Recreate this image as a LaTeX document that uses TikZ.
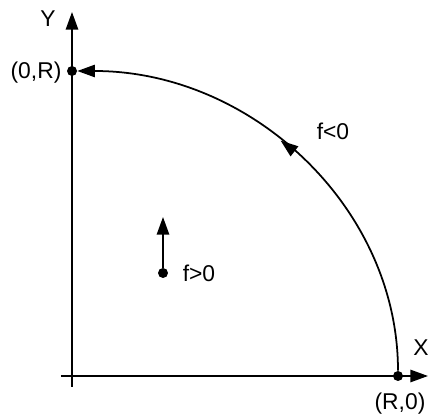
\documentclass[tikz,border=0pt]{standalone}
\usepackage{fontspec}
\setmainfont{Liberation Sans}
\usetikzlibrary{arrows.meta,decorations.markings}

\begin{document}
\begin{tikzpicture}[x=0.02cm,y=0.02cm,
  dot/.style={circle,fill,inner sep=0pt,minimum size=0.2cm},
  axis/.style={-{Triangle[length=10pt,width=7pt]},line width=1pt},
  curve/.style={-{Triangle[length=10pt,width=7pt]},line width=1pt,postaction={decorate},
    decoration={markings,mark=at position 0.55 with {\arrow{Triangle[length=10pt,width=7pt]}}}},
  lbl/.style={font=\fontsize{13}{15}\selectfont,inner sep=1pt}]
\useasboundingbox (-72,-43) rectangle (358,376);
% axes
\coordinate (xs) at (-11,0);
\coordinate (xe) at (356,0);
\coordinate (ys) at (0,-11);
\coordinate (ye) at (0,364);
\draw[axis] (xs) -- (xe);
\draw[axis] (ys) -- (ye);
\node[lbl] (xlab) at (349,28) {X};
\node[lbl] (ylab) at (-24,357) {Y};
% end points of the arc
\node[dot] (rx) at (326,0) {};
\node[dot] (ry) at (0,305) {};
\node[lbl] (rxlab) at (328,-28) {(R,0)};
\node[lbl] (rylab) at (-36,303) {(0,R)};
\draw[curve] (rx) .. controls +(0,168) and +(180,0) .. (ry);
\node[lbl] (neg) at (261,245) {f<0};
% inner point
\node[dot] (p) at (91,103) {};
\coordinate (ptip) at (91,159);
\draw[axis] (p) -- (ptip);
\node[lbl] (pos) at (127,103) {f>0};
\end{tikzpicture}
\end{document}
